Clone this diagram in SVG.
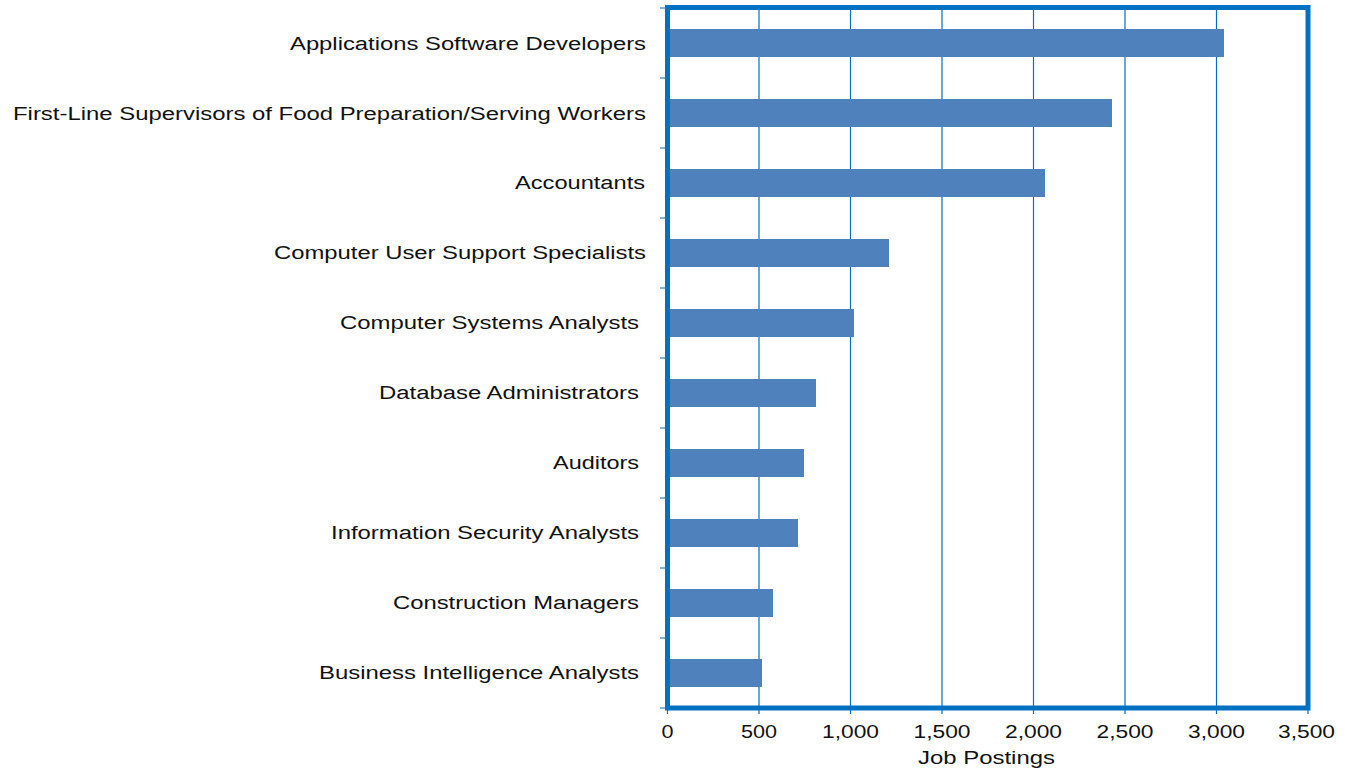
<svg xmlns="http://www.w3.org/2000/svg" width="1345" height="771" viewBox="0 0 1345 771">
<style>
text{font-family:"Liberation Sans",Arial,sans-serif;font-size:18px;fill:#111}
.cat{text-anchor:end}
.tick{text-anchor:middle}
.grid{stroke:#0070C0;stroke-width:1.2;fill:none}
.bar{fill:#4F81BD}
.frame{fill:none;stroke:#0070C0;stroke-width:5}
.tk{stroke:#0070C0;stroke-width:1.2}
</style>
<rect width="1345" height="771" fill="#fff"/>
<g id="gridlines">
<path class="grid" d="M759 8V708M850.5 8V708M942 8V708M1033.5 8V708M1125 8V708M1216.5 8V708"/>
</g>
<g id="bars">
<rect class="bar" x="669" y="29" width="555" height="28"/>
<rect class="bar" x="669" y="99" width="443" height="28"/>
<rect class="bar" x="669" y="169" width="376" height="28"/>
<rect class="bar" x="669" y="239" width="220" height="28"/>
<rect class="bar" x="669" y="309" width="185" height="28"/>
<rect class="bar" x="669" y="379" width="147" height="28"/>
<rect class="bar" x="669" y="449" width="135" height="28"/>
<rect class="bar" x="669" y="519" width="129" height="28"/>
<rect class="bar" x="669" y="589" width="104" height="28"/>
<rect class="bar" x="669" y="659" width="93" height="28"/>
</g>
<g id="ticks">
<path class="tk" d="M660 8H667M660 78H667M660 148H667M660 218H667M660 288H667M660 358H667M660 428H667M660 498H667M660 568H667M660 638H667M660 708H667"/>
<path class="tk" d="M667.5 708V714M759 708V714M850.5 708V714M942 708V714M1033.5 708V714M1125 708V714M1216.5 708V714M1308 708V714"/>
</g>
<g id="frame">
<rect class="frame" x="667.5" y="7.5" width="640.5" height="700.5"/>
</g>
<g id="category-labels">
<text class="cat" x="646" y="50" textLength="356" lengthAdjust="spacingAndGlyphs">Applications Software Developers</text>
<text class="cat" x="646" y="120" textLength="633" lengthAdjust="spacingAndGlyphs">First-Line Supervisors of Food Preparation/Serving Workers</text>
<text class="cat" x="645" y="189" textLength="130" lengthAdjust="spacingAndGlyphs">Accountants</text>
<text class="cat" x="646" y="259" textLength="372" lengthAdjust="spacingAndGlyphs">Computer User Support Specialists</text>
<text class="cat" x="639" y="329" textLength="299" lengthAdjust="spacingAndGlyphs">Computer Systems Analysts</text>
<text class="cat" x="639" y="399" textLength="260" lengthAdjust="spacingAndGlyphs">Database Administrators</text>
<text class="cat" x="639" y="469" textLength="86" lengthAdjust="spacingAndGlyphs">Auditors</text>
<text class="cat" x="639" y="539" textLength="308" lengthAdjust="spacingAndGlyphs">Information Security Analysts</text>
<text class="cat" x="639" y="609" textLength="246" lengthAdjust="spacingAndGlyphs">Construction Managers</text>
<text class="cat" x="639" y="679" textLength="320" lengthAdjust="spacingAndGlyphs">Business Intelligence Analysts</text>
</g>
<g id="axis-labels">
<text class="tick" x="667.5" y="738" textLength="12" lengthAdjust="spacingAndGlyphs">0</text>
<text class="tick" x="759" y="738" textLength="36" lengthAdjust="spacingAndGlyphs">500</text>
<text class="tick" x="850.5" y="738" textLength="57" lengthAdjust="spacingAndGlyphs">1,000</text>
<text class="tick" x="942" y="738" textLength="57" lengthAdjust="spacingAndGlyphs">1,500</text>
<text class="tick" x="1033.5" y="738" textLength="57" lengthAdjust="spacingAndGlyphs">2,000</text>
<text class="tick" x="1125" y="738" textLength="57" lengthAdjust="spacingAndGlyphs">2,500</text>
<text class="tick" x="1216.5" y="738" textLength="57" lengthAdjust="spacingAndGlyphs">3,000</text>
<text class="tick" x="1306.5" y="738" textLength="57" lengthAdjust="spacingAndGlyphs">3,500</text>
<text class="tick" x="986.5" y="764" textLength="137" lengthAdjust="spacingAndGlyphs">Job Postings</text>
</g>
</svg>
